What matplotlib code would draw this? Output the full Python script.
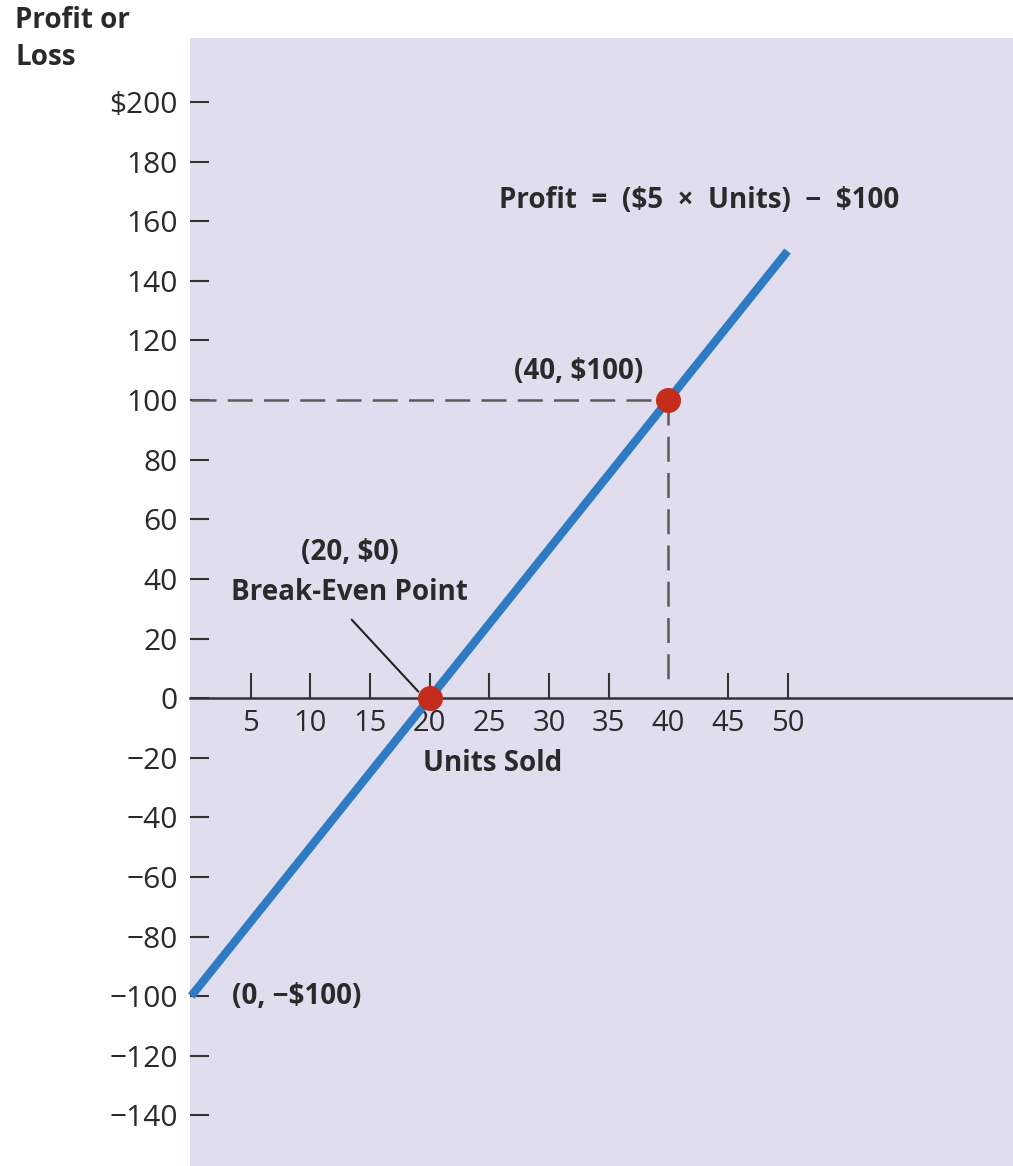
import matplotlib.pyplot as plt
import numpy as np

plt.rcParams['font.family'] = ['Open Sans', 'DejaVu Sans']
plt.rcParams['text.parse_math'] = False

# data
units = [0, 50]
profit = [-100, 150]
points_x = [20, 40]
points_y = [0, 100]
x_ticks = [5, 10, 15, 20, 25, 30, 35, 40, 45, 50]
y_ticks = [200, 180, 160, 140, 120, 100, 80, 60, 40, 20, 0,
           -20, -40, -60, -80, -100, -120, -140]
y_labels = ['$200'] + [str(v).replace('-', '\u2212') for v in y_ticks[1:]]

bg = '#e0ddef'
ink = '#2a2a2a'
fs = 20

fig = plt.figure(figsize=(10.13, 11.66), dpi=100)
ax = fig.add_axes([190 / 1013, 0, 1 - 190 / 1013, 1 - 38 / 1166])
ax.set_facecolor(bg)
ax.set_xlim(-0.1, 68.9)
ax.set_ylim(-157, 221.5)

# spines
for s in ['top', 'right', 'left']:
    ax.spines[s].set_visible(False)
ax.spines['bottom'].set_position(('data', 0))
ax.spines['bottom'].set_linewidth(1.8)
ax.spines['bottom'].set_color('#333333')

ax.set_xticks(x_ticks)
ax.set_xticklabels([str(v) for v in x_ticks])
ax.tick_params(axis='x', direction='in', length=18, width=1.5, colors='#333333',
               labelsize=21, pad=8, labelcolor=ink)
ax.xaxis.get_major_ticks()[x_ticks.index(40)].tick1line.set_visible(False)

ax.set_yticks(y_ticks)
ax.set_yticklabels(y_labels)
ax.tick_params(axis='y', direction='in', length=14, width=1.5, colors='#333333',
               labelsize=21.5, pad=9, labelcolor=ink)

# dashed guides to (40, 100)
ax.plot([0, 40], [100, 100], color='#5a5a5a', lw=1.8, ls=(0, (10, 4.5)), zorder=2)
ax.plot([40, 40], [100, 3], color='#5a5a5a', lw=1.8, ls=(0, (10, 4.5)), zorder=2)

# profit line
ax.plot(units, profit, color='#2e7bc4', lw=6, solid_capstyle='butt', zorder=3,
        clip_on=False)
ax.plot(points_x, points_y, 'o', color='#c42d1c', ms=17, zorder=4)

ax.annotate('', xy=(19.2, 1.5), xytext=(13.3, 27),
            arrowprops=dict(arrowstyle='-', color='#222222', lw=1.5))

ax.text(25.8, 167, 'Profit  =  ($5  \u00d7  Units)  \u2212  $100', fontsize=fs,
        fontweight='bold', color=ink, va='center', ha='left')
ax.text(32.5, 109.5, '(40, $100)', fontsize=fs, fontweight='bold', color=ink,
        va='center', ha='center')
ax.text(13.3, 49, '(20, $0)', fontsize=fs, fontweight='bold', color=ink,
        va='center', ha='center')
ax.text(13.3, 35.5, 'Break-Even Point', fontsize=fs, fontweight='bold',
        color=ink, va='center', ha='center')
ax.text(25.3, -22, 'Units Sold', fontsize=fs, fontweight='bold', color=ink,
        va='center', ha='center')
ax.text(3.4, -100, '(0, \u2212$100)', fontsize=fs, fontweight='bold', color=ink,
        va='center', ha='left')

fig.text(15 / 1013, 1 - 6 / 1166, 'Profit or\nLoss', fontsize=fs,
         fontweight='bold', color=ink, va='top', ha='left', linespacing=1.35)

fig.savefig('out.png', dpi=100, facecolor='white')
